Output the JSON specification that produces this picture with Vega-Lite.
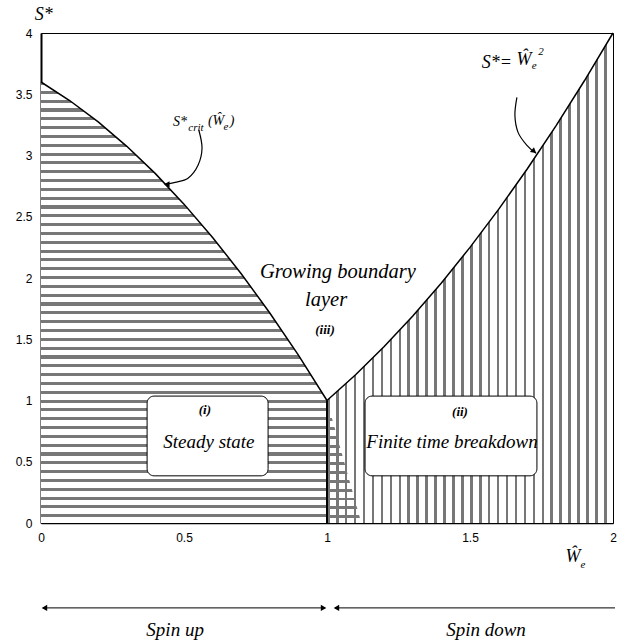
{
"$schema": "https://vega.github.io/schema/vega-lite/v6.json",
"width": 572, "height": 490,
"autosize": {"type": "none"},
"padding": {"left": 41, "top": 33, "right": 11, "bottom": 119},
"background": "white",
"config": {"view": {"stroke": "black", "strokeWidth": 1}, "text": {"font": "Liberation Serif"}},
"datasets": {
"crit": [{"x":0,"y":3.6},{"x":0.1,"y":3.449},{"x":0.2,"y":3.274},{"x":0.3,"y":3.075},{"x":0.4,"y":2.852},{"x":0.5,"y":2.603},{"x":0.6,"y":2.331},{"x":0.7,"y":2.035},{"x":0.8,"y":1.714},{"x":0.9,"y":1.37},{"x":1,"y":1}],
"sq": [{"x":1,"y":1},{"x":1.1,"y":1.21},{"x":1.2,"y":1.44},{"x":1.3,"y":1.69},{"x":1.4,"y":1.96},{"x":1.5,"y":2.25},{"x":1.6,"y":2.56},{"x":1.7,"y":2.89},{"x":1.8,"y":3.24},{"x":1.9,"y":3.61},{"x":2,"y":4}],
"tri": [{"x":1,"y":1},{"x":1.12,"y":0}],
"vrule": [{"x":1,"y":0,"y2":1}],
"boxes": [{"x":0.371,"x2":0.794,"y":1.036,"y2":0.385},{"x":1.133,"x2":1.734,"y":1.036,"y2":0.385}],
"txt": [
{"k":"big2","x":1.038,"y":2.047,"t":"Growing boundary"},
{"k":"big2","x":0.997,"y":1.819,"t":"layer"},
{"k":"big","x":0.587,"y":0.665,"t":"Steady state"},
{"k":"big","x":1.437,"y":0.665,"t":"Finite time breakdown"},
{"k":"big","x":0.469,"y":-0.873,"t":"Spin up"},
{"k":"big","x":1.556,"y":-0.873,"t":"Spin down"},
{"k":"rn","x":0.993,"y":1.574,"t":"(iii)"},
{"k":"rn","x":0.573,"y":0.922,"t":"(i)"},
{"k":"rn","x":1.465,"y":0.905,"t":"(ii)"},
{"k":"sym","x":0.01,"y":4.143,"t":"S*"},
{"k":"sym","x":1.86,"y":-0.277,"t":"Ŵ"},
{"k":"sym","x":1.594,"y":3.752,"t":"S*="},
{"k":"sym","x":1.689,"y":3.777,"t":"Ŵ"},
{"k":"sym2","x":0.486,"y":3.271,"t":"S*"},
{"k":"sym2","x":0.612,"y":3.279,"t":"(Ŵ"},
{"k":"sym2","x":0.668,"y":3.279,"t":")"},
{"k":"sub","x":1.895,"y":-0.343,"t":"e"},
{"k":"sub","x":0.542,"y":3.222,"t":"crit"},
{"k":"sub","x":0.647,"y":3.23,"t":"e"},
{"k":"sub","x":1.724,"y":3.728,"t":"e"},
{"k":"sub","x":1.748,"y":3.842,"t":"2"}
],
"curves": [
{"g":"a","o":1,"x":0.552,"y":3.206},{"g":"a","o":2,"x":0.563,"y":3.059},{"g":"a","o":3,"x":0.549,"y":2.92},{"g":"a","o":4,"x":0.514,"y":2.814},{"g":"a","o":5,"x":0.469,"y":2.781},{"g":"a","o":6,"x":0.434,"y":2.765},
{"g":"b","o":1,"x":1.664,"y":3.475},{"g":"b","o":2,"x":1.657,"y":3.328},{"g":"b","o":3,"x":1.668,"y":3.189},{"g":"b","o":4,"x":1.699,"y":3.083},{"g":"b","o":5,"x":1.731,"y":3.018}
],
"headsL": [{"x":0.44,"y":2.765},{"x":0.012,"y":-0.693},{"x":1.033,"y":-0.693}],
"headsR": [{"x":0.988,"y":-0.693}],
"headsDR": [{"x":1.724,"y":3.034}],
"bottom": [{"x":0.007,"x2":0.993,"y":-0.693},{"x":1.028,"x2":2.007,"y":-0.693}]
},
"encoding": {
"x": {"field":"x","type":"quantitative","scale":{"domain":[0,2],"nice":false,"zero":false},
"axis":{"values":[0,0.5,1,1.5,2],"format":"~g","title":null,"grid":false,"ticks":false,"labelPadding":9,"labelFont":"Liberation Sans","labelFontSize":12,"labelColor":"black","domainColor":"black","domainWidth":1.5,"labelFlush":false}},
"y": {"field":"y","type":"quantitative","scale":{"domain":[0,4],"nice":false,"zero":false},
"axis":{"values":[0,0.5,1,1.5,2,2.5,3,3.5,4],"format":"~g","title":null,"grid":false,"ticks":false,"labelPadding":9,"labelFont":"Liberation Sans","labelFontSize":12,"labelColor":"black","domainColor":"black","domainWidth":2,"labelFlush":false}}
},
"layer": [
{"data":{"name":"sq"},"mark":{"type":"area","fill":{"gradient":"linear","x1":0,"y1":0,"x2":1,"y2":0,"stops":[
{"offset":0,"color":"#777"},{"offset":0.009,"color":"#777"},{"offset":0.009,"color":"#fff"},{"offset":0.03125,"color":"#fff"},
{"offset":0.03125,"color":"#777"},{"offset":0.04025,"color":"#777"},{"offset":0.04025,"color":"#fff"},{"offset":0.0625,"color":"#fff"},
{"offset":0.0625,"color":"#777"},{"offset":0.0715,"color":"#777"},{"offset":0.0715,"color":"#fff"},{"offset":0.09375,"color":"#fff"},
{"offset":0.09375,"color":"#777"},{"offset":0.10275,"color":"#777"},{"offset":0.10275,"color":"#fff"},{"offset":0.125,"color":"#fff"},
{"offset":0.125,"color":"#777"},{"offset":0.134,"color":"#777"},{"offset":0.134,"color":"#fff"},{"offset":0.15625,"color":"#fff"},
{"offset":0.15625,"color":"#777"},{"offset":0.16525,"color":"#777"},{"offset":0.16525,"color":"#fff"},{"offset":0.1875,"color":"#fff"},
{"offset":0.1875,"color":"#777"},{"offset":0.1965,"color":"#777"},{"offset":0.1965,"color":"#fff"},{"offset":0.21875,"color":"#fff"},
{"offset":0.21875,"color":"#777"},{"offset":0.22775,"color":"#777"},{"offset":0.22775,"color":"#fff"},{"offset":0.25,"color":"#fff"},
{"offset":0.25,"color":"#777"},{"offset":0.259,"color":"#777"},{"offset":0.259,"color":"#fff"},{"offset":0.28125,"color":"#fff"},
{"offset":0.28125,"color":"#777"},{"offset":0.29025,"color":"#777"},{"offset":0.29025,"color":"#fff"},{"offset":0.3125,"color":"#fff"},
{"offset":0.3125,"color":"#777"},{"offset":0.3215,"color":"#777"},{"offset":0.3215,"color":"#fff"},{"offset":0.34375,"color":"#fff"},
{"offset":0.34375,"color":"#777"},{"offset":0.35275,"color":"#777"},{"offset":0.35275,"color":"#fff"},{"offset":0.375,"color":"#fff"},
{"offset":0.375,"color":"#777"},{"offset":0.384,"color":"#777"},{"offset":0.384,"color":"#fff"},{"offset":0.40625,"color":"#fff"},
{"offset":0.40625,"color":"#777"},{"offset":0.41525,"color":"#777"},{"offset":0.41525,"color":"#fff"},{"offset":0.4375,"color":"#fff"},
{"offset":0.4375,"color":"#777"},{"offset":0.4465,"color":"#777"},{"offset":0.4465,"color":"#fff"},{"offset":0.46875,"color":"#fff"},
{"offset":0.46875,"color":"#777"},{"offset":0.47775,"color":"#777"},{"offset":0.47775,"color":"#fff"},{"offset":0.5,"color":"#fff"},
{"offset":0.5,"color":"#777"},{"offset":0.509,"color":"#777"},{"offset":0.509,"color":"#fff"},{"offset":0.53125,"color":"#fff"},
{"offset":0.53125,"color":"#777"},{"offset":0.54025,"color":"#777"},{"offset":0.54025,"color":"#fff"},{"offset":0.5625,"color":"#fff"},
{"offset":0.5625,"color":"#777"},{"offset":0.5715,"color":"#777"},{"offset":0.5715,"color":"#fff"},{"offset":0.59375,"color":"#fff"},
{"offset":0.59375,"color":"#777"},{"offset":0.60275,"color":"#777"},{"offset":0.60275,"color":"#fff"},{"offset":0.625,"color":"#fff"},
{"offset":0.625,"color":"#777"},{"offset":0.634,"color":"#777"},{"offset":0.634,"color":"#fff"},{"offset":0.65625,"color":"#fff"},
{"offset":0.65625,"color":"#777"},{"offset":0.66525,"color":"#777"},{"offset":0.66525,"color":"#fff"},{"offset":0.6875,"color":"#fff"},
{"offset":0.6875,"color":"#777"},{"offset":0.6965,"color":"#777"},{"offset":0.6965,"color":"#fff"},{"offset":0.71875,"color":"#fff"},
{"offset":0.71875,"color":"#777"},{"offset":0.72775,"color":"#777"},{"offset":0.72775,"color":"#fff"},{"offset":0.75,"color":"#fff"},
{"offset":0.75,"color":"#777"},{"offset":0.759,"color":"#777"},{"offset":0.759,"color":"#fff"},{"offset":0.78125,"color":"#fff"},
{"offset":0.78125,"color":"#777"},{"offset":0.79025,"color":"#777"},{"offset":0.79025,"color":"#fff"},{"offset":0.8125,"color":"#fff"},
{"offset":0.8125,"color":"#777"},{"offset":0.8215,"color":"#777"},{"offset":0.8215,"color":"#fff"},{"offset":0.84375,"color":"#fff"},
{"offset":0.84375,"color":"#777"},{"offset":0.85275,"color":"#777"},{"offset":0.85275,"color":"#fff"},{"offset":0.875,"color":"#fff"},
{"offset":0.875,"color":"#777"},{"offset":0.884,"color":"#777"},{"offset":0.884,"color":"#fff"},{"offset":0.90625,"color":"#fff"},
{"offset":0.90625,"color":"#777"},{"offset":0.91525,"color":"#777"},{"offset":0.91525,"color":"#fff"},{"offset":0.9375,"color":"#fff"},
{"offset":0.9375,"color":"#777"},{"offset":0.9465,"color":"#777"},{"offset":0.9465,"color":"#fff"},{"offset":0.96875,"color":"#fff"},
{"offset":0.96875,"color":"#777"},{"offset":0.97775,"color":"#777"},{"offset":0.97775,"color":"#fff"},{"offset":1,"color":"#fff"}
]}},"encoding":{"y2":{"datum":0}}},
{"data":{"name":"tri"},"mark":{"type":"area","fill":{"gradient":"linear","x1":0,"y1":0,"x2":0,"y2":1,"stops":[
{"offset":0,"color":"#777"},{"offset":0.024,"color":"#777"},{"offset":0.024,"color":"rgba(255,255,255,0)"},{"offset":0.072,"color":"rgba(255,255,255,0)"},
{"offset":0.072,"color":"#777"},{"offset":0.096,"color":"#777"},{"offset":0.096,"color":"rgba(255,255,255,0)"},{"offset":0.144,"color":"rgba(255,255,255,0)"},
{"offset":0.144,"color":"#777"},{"offset":0.168,"color":"#777"},{"offset":0.168,"color":"rgba(255,255,255,0)"},{"offset":0.216,"color":"rgba(255,255,255,0)"},
{"offset":0.216,"color":"#777"},{"offset":0.24,"color":"#777"},{"offset":0.24,"color":"rgba(255,255,255,0)"},{"offset":0.288,"color":"rgba(255,255,255,0)"},
{"offset":0.288,"color":"#777"},{"offset":0.312,"color":"#777"},{"offset":0.312,"color":"rgba(255,255,255,0)"},{"offset":0.36,"color":"rgba(255,255,255,0)"},
{"offset":0.36,"color":"#777"},{"offset":0.384,"color":"#777"},{"offset":0.384,"color":"rgba(255,255,255,0)"},{"offset":0.432,"color":"rgba(255,255,255,0)"},
{"offset":0.432,"color":"#777"},{"offset":0.456,"color":"#777"},{"offset":0.456,"color":"rgba(255,255,255,0)"},{"offset":0.504,"color":"rgba(255,255,255,0)"},
{"offset":0.504,"color":"#777"},{"offset":0.528,"color":"#777"},{"offset":0.528,"color":"rgba(255,255,255,0)"},{"offset":0.576,"color":"rgba(255,255,255,0)"},
{"offset":0.576,"color":"#777"},{"offset":0.6,"color":"#777"},{"offset":0.6,"color":"rgba(255,255,255,0)"},{"offset":0.648,"color":"rgba(255,255,255,0)"},
{"offset":0.648,"color":"#777"},{"offset":0.672,"color":"#777"},{"offset":0.672,"color":"rgba(255,255,255,0)"},{"offset":0.72,"color":"rgba(255,255,255,0)"},
{"offset":0.72,"color":"#777"},{"offset":0.744,"color":"#777"},{"offset":0.744,"color":"rgba(255,255,255,0)"},{"offset":0.792,"color":"rgba(255,255,255,0)"},
{"offset":0.792,"color":"#777"},{"offset":0.816,"color":"#777"},{"offset":0.816,"color":"rgba(255,255,255,0)"},{"offset":0.864,"color":"rgba(255,255,255,0)"},
{"offset":0.864,"color":"#777"},{"offset":0.888,"color":"#777"},{"offset":0.888,"color":"rgba(255,255,255,0)"},{"offset":0.936,"color":"rgba(255,255,255,0)"},
{"offset":0.936,"color":"#777"},{"offset":0.96,"color":"#777"},{"offset":0.96,"color":"rgba(255,255,255,0)"},{"offset":1,"color":"rgba(255,255,255,0)"}
]}},"encoding":{"y2":{"datum":0}}},
{"data":{"name":"crit"},"mark":{"type":"area","fill":{"gradient":"linear","x1":0,"y1":0,"x2":0,"y2":1,"stops":[
{"offset":0,"color":"#777"},{"offset":0.007,"color":"#777"},{"offset":0.007,"color":"#fff"},{"offset":0.02,"color":"#fff"},
{"offset":0.02,"color":"#777"},{"offset":0.027,"color":"#777"},{"offset":0.027,"color":"#fff"},{"offset":0.04,"color":"#fff"},
{"offset":0.04,"color":"#777"},{"offset":0.047,"color":"#777"},{"offset":0.047,"color":"#fff"},{"offset":0.06,"color":"#fff"},
{"offset":0.06,"color":"#777"},{"offset":0.067,"color":"#777"},{"offset":0.067,"color":"#fff"},{"offset":0.08,"color":"#fff"},
{"offset":0.08,"color":"#777"},{"offset":0.087,"color":"#777"},{"offset":0.087,"color":"#fff"},{"offset":0.1,"color":"#fff"},
{"offset":0.1,"color":"#777"},{"offset":0.107,"color":"#777"},{"offset":0.107,"color":"#fff"},{"offset":0.12,"color":"#fff"},
{"offset":0.12,"color":"#777"},{"offset":0.127,"color":"#777"},{"offset":0.127,"color":"#fff"},{"offset":0.14,"color":"#fff"},
{"offset":0.14,"color":"#777"},{"offset":0.147,"color":"#777"},{"offset":0.147,"color":"#fff"},{"offset":0.16,"color":"#fff"},
{"offset":0.16,"color":"#777"},{"offset":0.167,"color":"#777"},{"offset":0.167,"color":"#fff"},{"offset":0.18,"color":"#fff"},
{"offset":0.18,"color":"#777"},{"offset":0.187,"color":"#777"},{"offset":0.187,"color":"#fff"},{"offset":0.2,"color":"#fff"},
{"offset":0.2,"color":"#777"},{"offset":0.207,"color":"#777"},{"offset":0.207,"color":"#fff"},{"offset":0.22,"color":"#fff"},
{"offset":0.22,"color":"#777"},{"offset":0.227,"color":"#777"},{"offset":0.227,"color":"#fff"},{"offset":0.24,"color":"#fff"},
{"offset":0.24,"color":"#777"},{"offset":0.247,"color":"#777"},{"offset":0.247,"color":"#fff"},{"offset":0.26,"color":"#fff"},
{"offset":0.26,"color":"#777"},{"offset":0.267,"color":"#777"},{"offset":0.267,"color":"#fff"},{"offset":0.28,"color":"#fff"},
{"offset":0.28,"color":"#777"},{"offset":0.287,"color":"#777"},{"offset":0.287,"color":"#fff"},{"offset":0.3,"color":"#fff"},
{"offset":0.3,"color":"#777"},{"offset":0.307,"color":"#777"},{"offset":0.307,"color":"#fff"},{"offset":0.32,"color":"#fff"},
{"offset":0.32,"color":"#777"},{"offset":0.327,"color":"#777"},{"offset":0.327,"color":"#fff"},{"offset":0.34,"color":"#fff"},
{"offset":0.34,"color":"#777"},{"offset":0.347,"color":"#777"},{"offset":0.347,"color":"#fff"},{"offset":0.36,"color":"#fff"},
{"offset":0.36,"color":"#777"},{"offset":0.367,"color":"#777"},{"offset":0.367,"color":"#fff"},{"offset":0.38,"color":"#fff"},
{"offset":0.38,"color":"#777"},{"offset":0.387,"color":"#777"},{"offset":0.387,"color":"#fff"},{"offset":0.4,"color":"#fff"},
{"offset":0.4,"color":"#777"},{"offset":0.407,"color":"#777"},{"offset":0.407,"color":"#fff"},{"offset":0.42,"color":"#fff"},
{"offset":0.42,"color":"#777"},{"offset":0.427,"color":"#777"},{"offset":0.427,"color":"#fff"},{"offset":0.44,"color":"#fff"},
{"offset":0.44,"color":"#777"},{"offset":0.447,"color":"#777"},{"offset":0.447,"color":"#fff"},{"offset":0.46,"color":"#fff"},
{"offset":0.46,"color":"#777"},{"offset":0.467,"color":"#777"},{"offset":0.467,"color":"#fff"},{"offset":0.48,"color":"#fff"},
{"offset":0.48,"color":"#777"},{"offset":0.487,"color":"#777"},{"offset":0.487,"color":"#fff"},{"offset":0.5,"color":"#fff"},
{"offset":0.5,"color":"#777"},{"offset":0.507,"color":"#777"},{"offset":0.507,"color":"#fff"},{"offset":0.52,"color":"#fff"},
{"offset":0.52,"color":"#777"},{"offset":0.527,"color":"#777"},{"offset":0.527,"color":"#fff"},{"offset":0.54,"color":"#fff"},
{"offset":0.54,"color":"#777"},{"offset":0.547,"color":"#777"},{"offset":0.547,"color":"#fff"},{"offset":0.56,"color":"#fff"},
{"offset":0.56,"color":"#777"},{"offset":0.567,"color":"#777"},{"offset":0.567,"color":"#fff"},{"offset":0.58,"color":"#fff"},
{"offset":0.58,"color":"#777"},{"offset":0.587,"color":"#777"},{"offset":0.587,"color":"#fff"},{"offset":0.6,"color":"#fff"},
{"offset":0.6,"color":"#777"},{"offset":0.607,"color":"#777"},{"offset":0.607,"color":"#fff"},{"offset":0.62,"color":"#fff"},
{"offset":0.62,"color":"#777"},{"offset":0.627,"color":"#777"},{"offset":0.627,"color":"#fff"},{"offset":0.64,"color":"#fff"},
{"offset":0.64,"color":"#777"},{"offset":0.647,"color":"#777"},{"offset":0.647,"color":"#fff"},{"offset":0.66,"color":"#fff"},
{"offset":0.66,"color":"#777"},{"offset":0.667,"color":"#777"},{"offset":0.667,"color":"#fff"},{"offset":0.68,"color":"#fff"},
{"offset":0.68,"color":"#777"},{"offset":0.687,"color":"#777"},{"offset":0.687,"color":"#fff"},{"offset":0.7,"color":"#fff"},
{"offset":0.7,"color":"#777"},{"offset":0.707,"color":"#777"},{"offset":0.707,"color":"#fff"},{"offset":0.72,"color":"#fff"},
{"offset":0.72,"color":"#777"},{"offset":0.727,"color":"#777"},{"offset":0.727,"color":"#fff"},{"offset":0.74,"color":"#fff"},
{"offset":0.74,"color":"#777"},{"offset":0.747,"color":"#777"},{"offset":0.747,"color":"#fff"},{"offset":0.76,"color":"#fff"},
{"offset":0.76,"color":"#777"},{"offset":0.767,"color":"#777"},{"offset":0.767,"color":"#fff"},{"offset":0.78,"color":"#fff"},
{"offset":0.78,"color":"#777"},{"offset":0.787,"color":"#777"},{"offset":0.787,"color":"#fff"},{"offset":0.8,"color":"#fff"},
{"offset":0.8,"color":"#777"},{"offset":0.807,"color":"#777"},{"offset":0.807,"color":"#fff"},{"offset":0.82,"color":"#fff"},
{"offset":0.82,"color":"#777"},{"offset":0.827,"color":"#777"},{"offset":0.827,"color":"#fff"},{"offset":0.84,"color":"#fff"},
{"offset":0.84,"color":"#777"},{"offset":0.847,"color":"#777"},{"offset":0.847,"color":"#fff"},{"offset":0.86,"color":"#fff"},
{"offset":0.86,"color":"#777"},{"offset":0.867,"color":"#777"},{"offset":0.867,"color":"#fff"},{"offset":0.88,"color":"#fff"},
{"offset":0.88,"color":"#777"},{"offset":0.887,"color":"#777"},{"offset":0.887,"color":"#fff"},{"offset":0.9,"color":"#fff"},
{"offset":0.9,"color":"#777"},{"offset":0.907,"color":"#777"},{"offset":0.907,"color":"#fff"},{"offset":0.92,"color":"#fff"},
{"offset":0.92,"color":"#777"},{"offset":0.927,"color":"#777"},{"offset":0.927,"color":"#fff"},{"offset":0.94,"color":"#fff"},
{"offset":0.94,"color":"#777"},{"offset":0.947,"color":"#777"},{"offset":0.947,"color":"#fff"},{"offset":0.96,"color":"#fff"},
{"offset":0.96,"color":"#777"},{"offset":0.967,"color":"#777"},{"offset":0.967,"color":"#fff"},{"offset":0.98,"color":"#fff"},
{"offset":0.98,"color":"#777"},{"offset":0.987,"color":"#777"},{"offset":0.987,"color":"#fff"},{"offset":1,"color":"#fff"}
]}},"encoding":{"y2":{"datum":0}}},
{"data":{"name":"crit"},"mark":{"type":"line","color":"black","strokeWidth":1.5},"encoding":{}},
{"data":{"name":"sq"},"mark":{"type":"line","color":"black","strokeWidth":1.5},"encoding":{}},
{"data":{"name":"vrule"},"mark":{"type":"rule","color":"black","strokeWidth":2},"encoding":{"y2":{"field":"y2"}}},
{"data":{"name":"boxes"},"mark":{"type":"rect","fill":"white","stroke":"black","strokeWidth":1,"cornerRadius":7},"encoding":{"x2":{"field":"x2"},"y2":{"field":"y2"}}},
{"data":{"name":"txt"},"transform":[{"filter":"datum.k == 'big'"}],"mark":{"type":"text","font":"Liberation Serif","fontStyle":"italic","fontSize":19,"color":"black","align":"center","baseline":"middle"},"encoding":{"text":{"field":"t"}}},
{"data":{"name":"txt"},"transform":[{"filter":"datum.k == 'big2'"}],"mark":{"type":"text","font":"Liberation Serif","fontStyle":"italic","fontSize":20.5,"color":"black","align":"center","baseline":"middle"},"encoding":{"text":{"field":"t"}}},
{"data":{"name":"txt"},"transform":[{"filter":"datum.k == 'rn'"}],"mark":{"type":"text","font":"Liberation Serif","fontStyle":"italic","fontWeight":"bold","fontSize":13,"color":"black","align":"center","baseline":"middle"},"encoding":{"text":{"field":"t"}}},
{"data":{"name":"txt"},"transform":[{"filter":"datum.k == 'sym'"}],"mark":{"type":"text","font":"Liberation Serif","fontStyle":"italic","fontSize":18,"color":"black","align":"center","baseline":"middle"},"encoding":{"text":{"field":"t"}}},
{"data":{"name":"txt"},"transform":[{"filter":"datum.k == 'sym2'"}],"mark":{"type":"text","font":"Liberation Serif","fontStyle":"italic","fontSize":14,"color":"black","align":"center","baseline":"middle"},"encoding":{"text":{"field":"t"}}},
{"data":{"name":"txt"},"transform":[{"filter":"datum.k == 'sub'"}],"mark":{"type":"text","font":"Liberation Serif","fontStyle":"italic","fontSize":11,"color":"black","align":"center","baseline":"middle"},"encoding":{"text":{"field":"t"}}},
{"data":{"name":"curves"},"mark":{"type":"line","color":"black","strokeWidth":1.2,"interpolate":"cardinal"},"encoding":{"detail":{"field":"g"},"order":{"field":"o"}}},
{"data":{"name":"headsL"},"mark":{"type":"point","shape":"triangle-left","filled":true,"color":"black","size":40,"opacity":1},"encoding":{}},
{"data":{"name":"headsR"},"mark":{"type":"point","shape":"triangle-right","filled":true,"color":"black","size":40,"opacity":1},"encoding":{}},
{"data":{"name":"headsDR"},"mark":{"type":"point","shape":"triangle-right","angle":40,"filled":true,"color":"black","size":40,"opacity":1},"encoding":{}},
{"data":{"name":"bottom"},"mark":{"type":"rule","color":"black","strokeWidth":1},"encoding":{"x2":{"field":"x2"}}}
]
}
